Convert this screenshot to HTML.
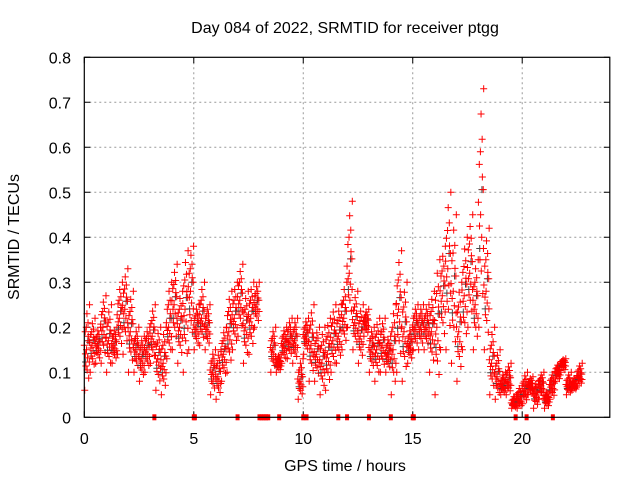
<!DOCTYPE html>
<html><head><meta charset="utf-8"><style>
body{margin:0;background:#fff}
svg{display:block;font-family:"Liberation Sans",sans-serif}
</style></head><body>
<svg id="chart" width="640" height="480" viewBox="0 0 640 480">
<text x="345" y="33" text-anchor="middle" font-size="16">Day 084 of 2022, SRMTID for receiver ptgg</text>
<text x="345" y="471" text-anchor="middle" font-size="16">GPS time / hours</text>
<text transform="translate(19,237) rotate(-90)" text-anchor="middle" font-size="16">SRMTID / TECUs</text>
<g id="grid"></g>
<g id="ticks"></g>
<g id="marks"></g>
<rect x="84.3" y="57.3" width="525.5" height="360" fill="none" stroke="#000" stroke-width="1.2"/>
</svg>
<script>
const xTicks=[0,5,10,15,20];
const yTicks=[0,0.1,0.2,0.3,0.4,0.5,0.6,0.7,0.8];
const yTickLabels=["0","0.1","0.2","0.3","0.4","0.5","0.6","0.7","0.8"];
const binHours=[0,0.25,0.5,0.75,1,1.25,1.5,1.75,2,2.25,2.5,2.75,3,3.25,3.5,3.75,4,4.25,4.5,4.75,5,5.25,5.5,5.75,6,6.25,6.5,6.75,7,7.25,7.5,7.75,8.5,8.75,9,9.25,9.5,9.75,10,10.25,10.5,10.75,11,11.25,11.5,11.75,12,12.25,12.5,12.75,13,13.25,13.5,13.75,14,14.25,14.5,14.75,15,15.25,15.5,15.75,16,16.25,16.5,16.75,17,17.25,17.5,17.75,18,18.25,18.5,18.75,19,19.25,19.5,19.75,20,20.25,20.5,20.75,21,21.25,21.5,21.75,22,22.25,22.5];
const srmtidLow=[0.06,0.1,0.12,0.12,0.1,0.12,0.14,0.14,0.1,0.1,0.08,0.1,0.12,0.06,0.05,0.13,0.15,0.12,0.1,0.15,0.15,0.16,0.15,0.05,0.04,0.08,0.1,0.15,0.18,0.12,0.14,0.2,0.1,0.1,0.12,0.13,0.12,0.04,0.14,0.08,0.08,0.05,0.06,0.1,0.12,0.15,0.2,0.15,0.12,0.18,0.1,0.08,0.1,0.1,0.05,0.1,0.08,0.12,0.15,0.15,0.15,0.1,0.05,0.15,0.15,0.12,0.08,0.15,0.2,0.15,0.2,0.15,0.05,0.04,0.05,0.05,0.02,0.02,0.03,0.05,0.02,0.04,0.02,0.04,0.08,0.1,0.05,0.06,0.07];
const srmtidMid=[0.15,0.16,0.16,0.2,0.17,0.16,0.22,0.24,0.19,0.15,0.13,0.15,0.18,0.13,0.12,0.2,0.25,0.2,0.24,0.28,0.2,0.22,0.2,0.1,0.09,0.14,0.19,0.22,0.26,0.2,0.22,0.25,0.15,0.12,0.16,0.17,0.17,0.08,0.18,0.16,0.14,0.12,0.14,0.17,0.18,0.22,0.32,0.21,0.18,0.21,0.15,0.15,0.16,0.14,0.15,0.24,0.19,0.16,0.2,0.2,0.2,0.19,0.2,0.27,0.33,0.28,0.19,0.27,0.32,0.25,0.45,0.28,0.12,0.09,0.07,0.08,0.03,0.04,0.06,0.07,0.05,0.07,0.04,0.07,0.1,0.12,0.07,0.07,0.09];
const srmtidHigh=[0.25,0.22,0.2,0.27,0.25,0.2,0.3,0.33,0.28,0.2,0.18,0.2,0.25,0.2,0.2,0.3,0.34,0.28,0.37,0.38,0.25,0.3,0.25,0.15,0.15,0.2,0.28,0.3,0.34,0.28,0.3,0.3,0.2,0.14,0.2,0.22,0.22,0.13,0.22,0.25,0.2,0.2,0.22,0.25,0.25,0.3,0.48,0.28,0.25,0.24,0.2,0.22,0.22,0.18,0.25,0.37,0.3,0.2,0.25,0.25,0.25,0.28,0.35,0.38,0.5,0.45,0.3,0.4,0.45,0.35,0.73,0.42,0.2,0.15,0.1,0.12,0.05,0.07,0.1,0.09,0.08,0.1,0.06,0.1,0.12,0.13,0.1,0.09,0.12];
const zeroHours=[3.2,5.0,5.05,7.0,8.0,8.1,8.2,8.3,8.4,8.9,10.0,10.15,11.6,12.0,13.0,14.0,15.0,15.05,19.7,20.2,21.4];
const X0=84.3,X1=609.8,Y0=417.3,Y1=57.3,XMAX=24,YMAX=0.8;
const xs=h=>X0+(h/XMAX)*(X1-X0);
const ys=v=>Y0-(v/YMAX)*(Y0-Y1);
const NS="http://www.w3.org/2000/svg";
const grid=document.getElementById('grid'),ticks=document.getElementById('ticks'),marks=document.getElementById('marks');
function mk(tag,attrs,parent){const e=document.createElementNS(NS,tag);for(const k in attrs)e.setAttribute(k,attrs[k]);parent.appendChild(e);return e;}
xTicks.forEach(t=>{
  const x=xs(t);
  if(t>0){const g=mk('line',{x1:x,x2:x,y1:Y1,y2:Y0,stroke:'#999','stroke-dasharray':'2,3'},grid);
  
  }
  const tk=mk('path',{d:`M${x},${Y0}v-6M${x},${Y1}v6`,stroke:'#000'},ticks);
  
  
  const l=mk('text',{x:x,y:444,'text-anchor':'middle','font-size':16},ticks);l.textContent=t;
  
  
});
yTicks.forEach((t,i)=>{
  const y=ys(t);
  if(t>0&&t<YMAX){const g=mk('line',{x1:X0,x2:X1,y1:y,y2:y,stroke:'#999','stroke-dasharray':'2,3'},grid);
  
  }
  const tk=mk('path',{d:`M${X0},${y}h6M${X1},${y}h-6`,stroke:'#000'},ticks);
  
  
  const l=mk('text',{x:71,y:y+6,'text-anchor':'end','font-size':16},ticks);l.textContent=yTickLabels[i];
  
  
});
function plus(h,v,color){
  const x=xs(h),y=ys(v);
  const p=mk('path',{d:`M${x-3.5},${y}h7M${x},${y-3.5}v7`,stroke:color,'stroke-width':1},marks);
  
  
}
const layout=[[0,0.02],[0.15,0.2],[0.3,0.07],[0.4,0.15],[0.5,0.1],[0.6,0.22],[0.7,0.04],[0.8,0.17],[0.9,0.12],[1,0.24],[0.25,0.13],[0.55,0.0],[0.75,0.09],[0.35,0.23],[0.45,0.05],[0.65,0.18]];
binHours.forEach((h,i)=>{
  const lo=srmtidLow[i],mid=srmtidMid[i],hi=srmtidHigh[i];
  const val=f=>f<=0.5?lo+(mid-lo)*f*2:mid+(hi-mid)*(f-0.5)*2;
  plus(h+0.06,val(0.35),'#444');
  plus(h+0.16,val(0.6),'#444');
  layout.forEach(([f,o])=>plus(h+o,val(f),'red'));
});
zeroHours.forEach(h=>{
  const r=mk('rect',{x:xs(h)-2,y:Y0-3,width:4,height:6,fill:'red'},marks);
  
  
});
</script>
</body></html>
